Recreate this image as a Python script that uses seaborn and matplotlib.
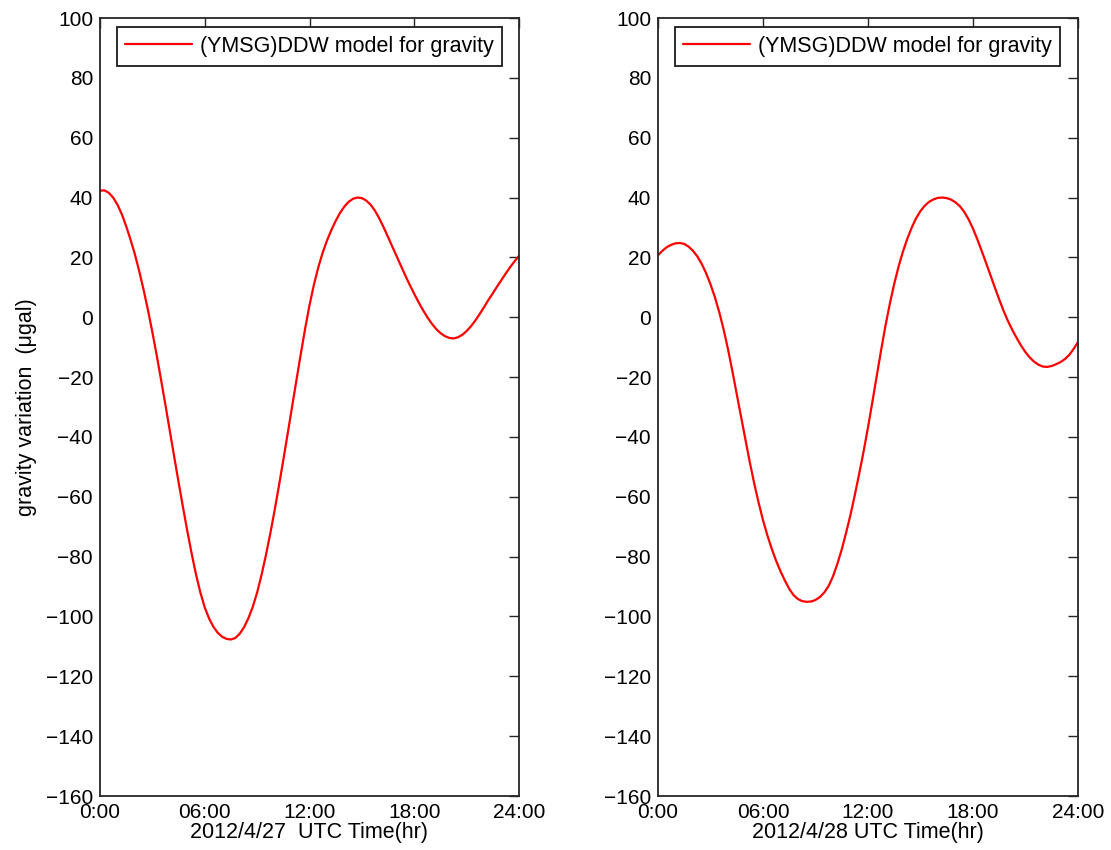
import numpy as np
import pandas as pd
import matplotlib
matplotlib.use("Agg")
import matplotlib.pyplot as plt
import seaborn as sns

# ---- data (quarter-hour readings) ----
hours = [i * 0.25 for i in range(97)]

day27 = [42.3, 42.4, 41.6, 40.0, 37.6, 34.4, 30.4, 25.9, 21.0, 15.3,
         9.1, 2.3, -5.0, -12.8, -21.0, -29.4, -38.0, -46.6, -55.1, -63.4,
         -71.4, -79.0, -86.0, -92.0, -97.0, -100.7, -103.5, -105.5, -106.8, -107.5,
         -107.7, -107.2, -105.8, -103.6, -100.6, -96.8, -92.0, -86.2, -79.6, -72.4,
         -64.6, -56.3, -47.7, -38.9, -30.0, -21.1, -12.3, -3.8, 4.0, 10.8,
         16.6, 21.5, 25.6, 29.1, 32.2, 34.9, 37.0, 38.6, 39.6, 40.0,
         39.8, 39.0, 37.6, 35.6, 33.0, 30.0, 26.8, 23.5, 20.3, 17.0,
         13.8, 10.7, 7.8, 5.0, 2.4, 0.0, -2.1, -3.9, -5.3, -6.3,
         -6.9, -7.1, -6.7, -5.9, -4.6, -3.0, -1.1, 1.1, 3.4, 5.8,
         8.0, 10.3, 12.5, 14.7, 16.8, 18.7, 20.5]

day28 = [20.7, 22.2, 23.4, 24.2, 24.7, 24.8, 24.5, 23.6, 22.2, 20.3,
         17.8, 14.7, 11.0, 6.7, 1.7, -4.1, -10.7, -18.0, -25.7, -33.4,
         -41.0, -48.6, -55.6, -62.0, -67.8, -72.9, -77.4, -81.4, -84.9, -88.0,
         -90.8, -92.9, -94.2, -94.9, -95.1, -95.0, -94.5, -93.5, -92.0, -89.8,
         -86.6, -82.4, -77.6, -72.0, -66.0, -59.3, -52.2, -44.8, -36.8, -28.3,
         -19.6, -11.0, -2.8, 4.6, 11.2, 17.0, 22.0, 26.3, 30.0, 33.1,
         35.5, 37.3, 38.6, 39.4, 39.9, 40.0, 39.8, 39.3, 38.4, 37.1,
         35.2, 32.7, 29.6, 26.0, 22.1, 18.1, 14.0, 9.9, 5.9, 2.1,
         -1.3, -4.3, -7.0, -9.5, -11.7, -13.5, -14.9, -15.9, -16.5, -16.6,
         -16.3, -15.7, -15.0, -14.0, -12.6, -10.6, -8.3]

xtick_pos = [0, 6, 12, 18, 24]
xtick_labels = ["0:00", "06:00", "12:00", "18:00", "24:00"]
ytick_pos = list(range(-160, 101, 20))

xlabels = ["2012/4/27  UTC Time(hr)", "2012/4/28 UTC Time(hr)"]
ylabel = "gravity variation  (\u03bcgal)"
series_label = "(YMSG)DDW model for gravity"

# ---- style ----
sns.set_style("white")
plt.rcParams["font.family"] = ["Liberation Sans", "DejaVu Sans"]
plt.rcParams["text.color"] = "black"
plt.rcParams["axes.labelcolor"] = "black"

FS = 15
spine_col = "#262626"

fig = plt.figure(figsize=(11.11, 8.5), dpi=100)
W, H = 1111, 850
ax1 = fig.add_axes([100 / W, 1 - 796 / H, 419 / W, 778 / H])
ax2 = fig.add_axes([658 / W, 1 - 796 / H, 420 / W, 778 / H])

for ax, vals, xl in [(ax1, day27, xlabels[0]), (ax2, day28, xlabels[1])]:
    df = pd.DataFrame({"hour": hours, "gravity": vals})
    sns.lineplot(data=df, x="hour", y="gravity", ax=ax, color="#ff0000",
                 linewidth=1.6, label=series_label)
    ax.set_xlim(0, 24)
    ax.set_ylim(-160, 100)
    ax.set_xticks(xtick_pos)
    ax.set_xticklabels(xtick_labels)
    ax.set_yticks(ytick_pos)
    ax.tick_params(axis="both", direction="in", length=7, width=1.0,
                   color=spine_col, labelsize=FS, top=True, right=True,
                   labelcolor="black", pad=5)
    ax.tick_params(axis="x", pad=5)
    for s in ax.spines.values():
        s.set_visible(True)
        s.set_color(spine_col)
        s.set_linewidth(1.3)
    ax.set_xlabel(xl, fontsize=15.5, color="black", labelpad=0)
    ax.set_ylabel("")
    leg = ax.legend(loc="upper left", bbox_to_anchor=(0.04, 0.988),
                    borderaxespad=0, fontsize=15.5, frameon=True, fancybox=False,
                    handlelength=3.1, handletextpad=0.35, borderpad=0.4,
                    edgecolor="black", framealpha=1)
    leg.get_frame().set_linewidth(1.3)
    leg.get_frame().set_edgecolor("#1a1a1a")
    for t in leg.get_texts():
        t.set_color("black")

ax1.set_ylabel(ylabel, fontsize=15.5, color="black", labelpad=6)

fig.savefig("out.png", dpi=100, facecolor="white")
